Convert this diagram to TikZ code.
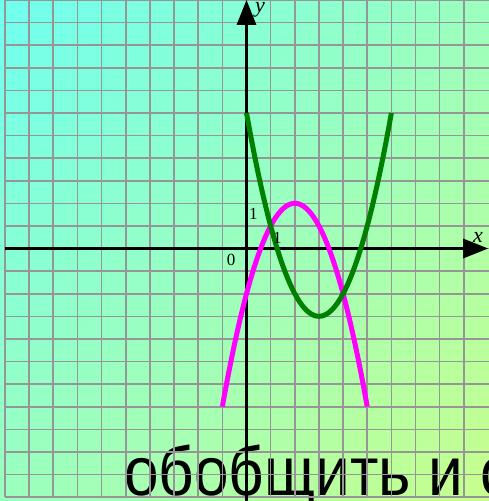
\documentclass[tikz,border=0pt]{standalone}
\usepackage{fontspec}
\setmainfont{Liberation Serif}
\newfontfamily\capsans{Liberation Sans}
\usetikzlibrary{arrows.meta,shadings}

\definecolor{bgcyan}{RGB}{112,255,240}
\definecolor{bgmint}{RGB}{155,255,190}
\definecolor{bglime}{RGB}{200,255,140}
\definecolor{gridgray}{RGB}{150,150,150}
\definecolor{curvegreen}{RGB}{0,128,0}
\definecolor{curvepink}{RGB}{255,0,255}

\begin{document}
\begin{tikzpicture}[x=24.15pt, y=22.6pt,
  gridline/.style={gridgray, line width=1.6pt},
  axisline/.style={line width=3pt, -{Triangle[length=25pt,width=19pt]}},
  graphline/.style={line width=5pt},
  ticklabel/.style={font=\fontsize{17}{17}\selectfont, inner sep=0pt},
  axislabel/.style={font=\itshape\fontsize{22}{22}\selectfont, inner sep=0pt}]
  \useasboundingbox (-10.207,-11.172) rectangle (10.041,10.996);
  \clip (-10.207,-11.172) rectangle (10.041,10.996);
  \shade[upper left=bgcyan, upper right=bgmint, lower left=bgmint, lower right=bglime] (-10.207,-11.172) rectangle (10.041,10.996);
  % caption, under the grid
  \node[font=\capsans\fontsize{69}{69}\selectfont, xscale=0.9, anchor=base west, inner sep=0pt] (caption) at (-5.07,-10.91) {обобщить и с};
  % grid
  \foreach \i in {-10,...,9} \draw[gridline] (\i,-11) -- (\i,11.2);
  \foreach \j in {-11,...,11} \draw[gridline] (-10,\j) -- (10.2,\j);
  % axes
  \coordinate (xstart) at (-10,0);
  \coordinate (xend) at (10.01,0);
  \coordinate (ystart) at (0,-11.4);
  \coordinate (yend) at (0,11);
  \draw[axisline] (xstart) -- (xend);
  \draw[axisline] (ystart) -- (yend);
  % parabolas
  \draw[graphline, curvepink] plot[domain=-1:5, samples=61] (\x,{2-(\x-2)^2});
  \draw[graphline, curvegreen] plot[domain=0:6, samples=61] (\x,{(\x-3)^2-3});
  % labels
  \node[axislabel] (xlabel) at (9.59,0.49) {x};
  \node[axislabel] (ylabel) at (0.56,10.55) {y};
  \node[ticklabel] (origin) at (-0.64,-0.51) {0};
  \node[ticklabel] (yone) at (0.28,1.53) {1};
  \node[ticklabel] (xone) at (1.28,0.49) {1};
\end{tikzpicture}
\end{document}
